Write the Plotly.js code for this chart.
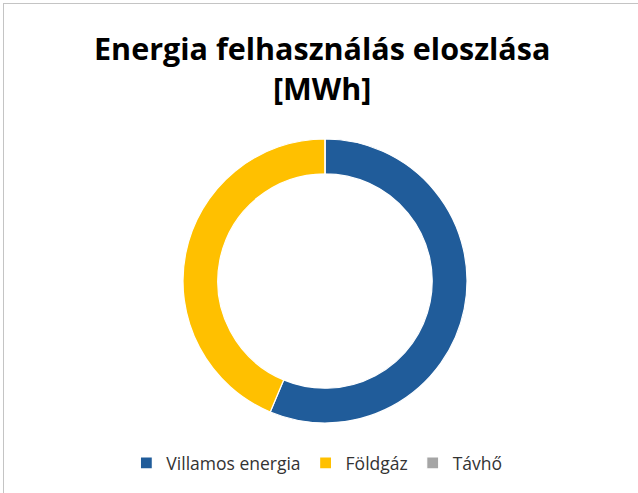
<!DOCTYPE html>
<html>
<head>
<meta charset="utf-8">
<script src="https://cdn.plot.ly/plotly-3.0.1.min.js"></script>
<style>
html, body { margin: 0; padding: 0; background: #fff; overflow: hidden; }
#wrap { position: relative; width: 638px; height: 493px; }
#frame { position: absolute; left: 3px; top: 3px; width: 700px; height: 600px; border: 1px solid #c4c4c4; pointer-events: none; }
#chart { position: absolute; left: 0; top: 0; width: 638px; height: 493px; }
</style>
</head>
<body>
<div id="wrap">
<div id="chart"></div>
<div id="frame"></div>
</div>
<script>
const categories = ["Villamos energia", "Földgáz", "Távhő"];
const values = [563, 437, 0];
const colors = ["#205C9A", "#FFC000", "#A5A5A5"];
const titleText = "Energia felhasználás eloszlása<br>[MWh]";

const data = [{
  type: "pie",
  labels: categories,
  values: values,
  hole: 0.755,
  sort: false,
  direction: "clockwise",
  rotation: 0,
  textinfo: "none",
  hoverinfo: "skip",
  marker: { colors: colors, line: { color: "#ffffff", width: 1.2 } },
  showlegend: true
}];

const layout = {
  width: 638,
  height: 493,
  paper_bgcolor: "rgba(0,0,0,0)",
  plot_bgcolor: "rgba(0,0,0,0)",
  margin: { l: 12, r: 0, t: 139, b: 70 },
  title: {
    text: titleText,
    x: 0.505,
    xref: "container",
    xanchor: "center",
    y: 1 - 60 / 493,
    yref: "container",
    yanchor: "top",
    font: { family: "Open Sans, sans-serif", size: 30.5, color: "#000000", weight: "bold" }
  },
  legend: {
    orientation: "h",
    x: 0.487,
    xanchor: "center",
    xref: "paper",
    y: (493 - 463) / 493,
    yref: "container",
    yanchor: "middle",
    font: { family: "Open Sans, sans-serif", size: 17.5, color: "#333333" },
    traceorder: "normal"
  }
};

Plotly.newPlot("chart", data, layout, { displayModeBar: false, staticPlot: true });
</script>
</body>
</html>
